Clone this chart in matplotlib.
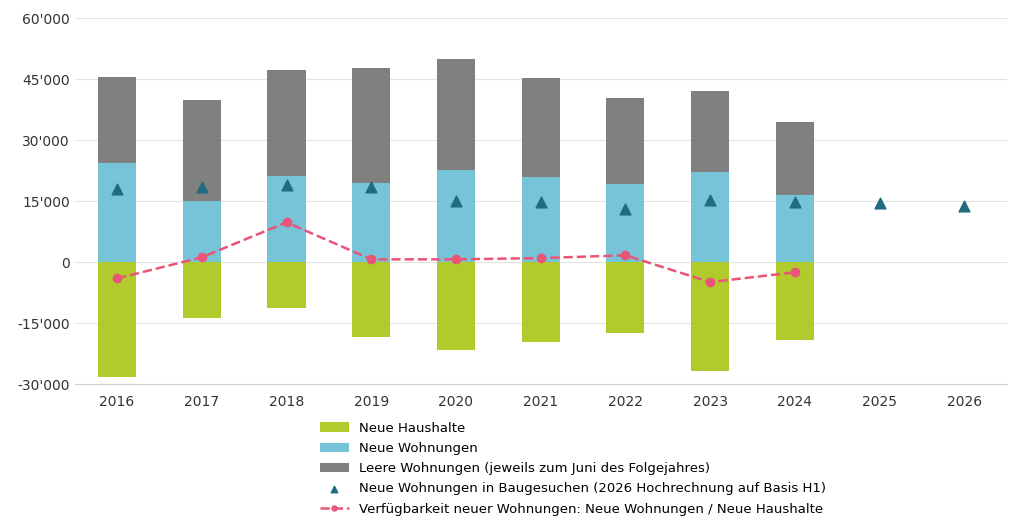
import numpy as np
import matplotlib.pyplot as plt
from matplotlib.ticker import FuncFormatter

years = ["2016", "2017", "2018", "2019", "2020", "2021", "2022", "2023", "2024", "2025", "2026"]
haushalte = [-28300, -13800, -11300, -18400, -21600, -19700, -17400, -26800, -19200]
wohnungen = [24300, 15000, 21100, 19400, 22600, 20900, 19200, 22100, 16500]
leer_top = [45500, 40000, 47200, 47900, 49900, 45200, 40500, 42000, 34400]
baugesuche = [18000, 18400, 18900, 18400, 15000, 14800, 13000, 15200, 14800, 14500, 13800]
verfuegbar = [-4000, 1200, 9800, 700, 700, 1000, 1700, -4900, -2500]

leer = [t - w for t, w in zip(leer_top, wohnungen)]
x = np.arange(len(years))
xb = x[:len(haushalte)]

fig = plt.figure(figsize=(10.24, 5.24), dpi=100)
ax = fig.add_axes([0.073, 0.267, 0.91, 0.698])

h1 = ax.bar(xb, haushalte, 0.45, color="#b0cb2b", label="Neue Haushalte", zorder=2)
h2 = ax.bar(xb, wohnungen, 0.45, color="#77c4d8", label="Neue Wohnungen", zorder=2)
h3 = ax.bar(xb, leer, 0.45, bottom=wohnungen, color="#808080",
            label="Leere Wohnungen (jeweils zum Juni des Folgejahres)", zorder=2)
h4 = ax.scatter(x, baugesuche, marker="^", s=60, color="#1f6b80", zorder=3,
                label="Neue Wohnungen in Baugesuchen (2026 Hochrechnung auf Basis H1)")
h5, = ax.plot(xb, verfuegbar, "--", color="#ea5476", lw=1.8, marker="o", ms=6, zorder=4,
              label="Verfügbarkeit neuer Wohnungen: Neue Wohnungen / Neue Haushalte")

ax.set_ylim(-30000, 60000)
ax.set_yticks(np.arange(-30000, 60001, 15000))
ax.yaxis.set_major_formatter(FuncFormatter(lambda v, p: f"{int(v):,}".replace(",", "'")))
ax.set_xticks(x)
ax.set_xticklabels(years)
ax.set_xlim(-0.5, len(years) - 0.5)
ax.grid(axis="y", color="#e3e3e3", lw=0.8, zorder=0)
for s in ["top", "right", "left"]:
    ax.spines[s].set_visible(False)
ax.spines["bottom"].set_color("#d0d0d0")
ax.tick_params(length=0, labelsize=10, colors="#333333")
ax.tick_params(axis="x", pad=8)

ax.legend([h1, h2, h3, h4, h5], [h.get_label() for h in [h1, h2, h3, h4, h5]],
          loc="upper left", bbox_to_anchor=(0.25, -0.07), frameon=False,
          fontsize=9.5, handlelength=2.2, labelspacing=0.55, markerscale=0.6)

fig.savefig("out.png")
